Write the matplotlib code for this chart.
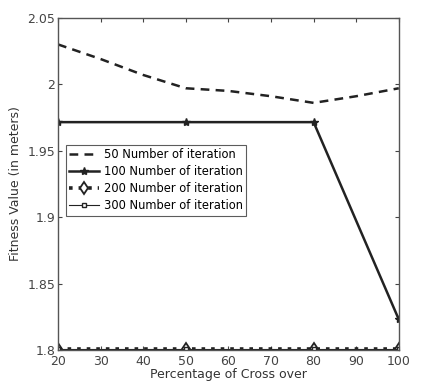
import matplotlib
matplotlib.use("Agg")
import matplotlib.pyplot as plt

x_main = [20, 50, 80, 100]
x_50 = [20, 30, 40, 50, 60, 70, 80, 90, 100]
y_50 = [2.030, 2.019, 2.007, 1.997, 1.995, 1.991, 1.986, 1.991, 1.997]
y_100 = [1.9715, 1.9715, 1.9715, 1.823]
y_200 = [1.8005, 1.8005, 1.8005, 1.8005]
y_300 = [1.8005, 1.8005, 1.8005, 1.8005]
labels = ["50 Number of iteration", "100 Number of iteration",
          "200 Number of iteration", "300 Number of iteration"]
xticks = [20, 30, 40, 50, 60, 70, 80, 90, 100]
yticks = [1.8, 1.85, 1.9, 1.95, 2.0, 2.05]
yticklabels = ["1.8", "1.85", "1.9", "1.95", "2", "2.05"]

plt.rcParams['font.family'] = ['DejaVu Sans']
fig = plt.figure(figsize=(4.33, 3.88), dpi=100)
ax = fig.add_axes([0.134, 0.098, 0.787, 0.856])

ax.plot(x_50, y_50, color='#222222', linestyle=(0, (3.5, 2.5)), linewidth=1.8, label=labels[0])
ax.plot(x_main, y_100, color='#222222', linestyle='-', linewidth=1.8, marker='*', markersize=6, label=labels[1])
ax.plot(x_main, y_200, color='#222222', linestyle=':', linewidth=2.6, marker='d', markersize=6,
        markerfacecolor='white', markeredgewidth=1.3, label=labels[2])
ax.plot(x_main, y_300, color='#222222', linestyle='-', linewidth=0.8, marker='s', markersize=3.5,
        markerfacecolor='white', label=labels[3])

ax.set_xlim(20, 100)
ax.set_ylim(1.8, 2.05)
ax.set_xticks(xticks)
ax.set_yticks(yticks)
ax.set_yticklabels(yticklabels)
ax.tick_params(direction='in', top=True, right=True, labelsize=9, length=3, colors='#444444', pad=2)
ax.tick_params(axis='x', pad=3.5)
for s in ax.spines.values():
    s.set_color('#555555')
    s.set_linewidth(1.0)
ax.set_xlabel("Percentage of Cross over", fontsize=9, color='#333333', labelpad=0)
ax.set_ylabel("Fitness Value (in meters)", fontsize=9, color='#333333', labelpad=4)

leg = ax.legend(loc='upper left', bbox_to_anchor=(0.023, 0.618), fontsize=8.3, frameon=True,
                fancybox=False, edgecolor='#333333', handlelength=2.6, handletextpad=0.4,
                borderpad=0.3, labelspacing=0.35, borderaxespad=0)
leg.get_frame().set_linewidth(0.8)

fig.savefig("out.png", dpi=100)
